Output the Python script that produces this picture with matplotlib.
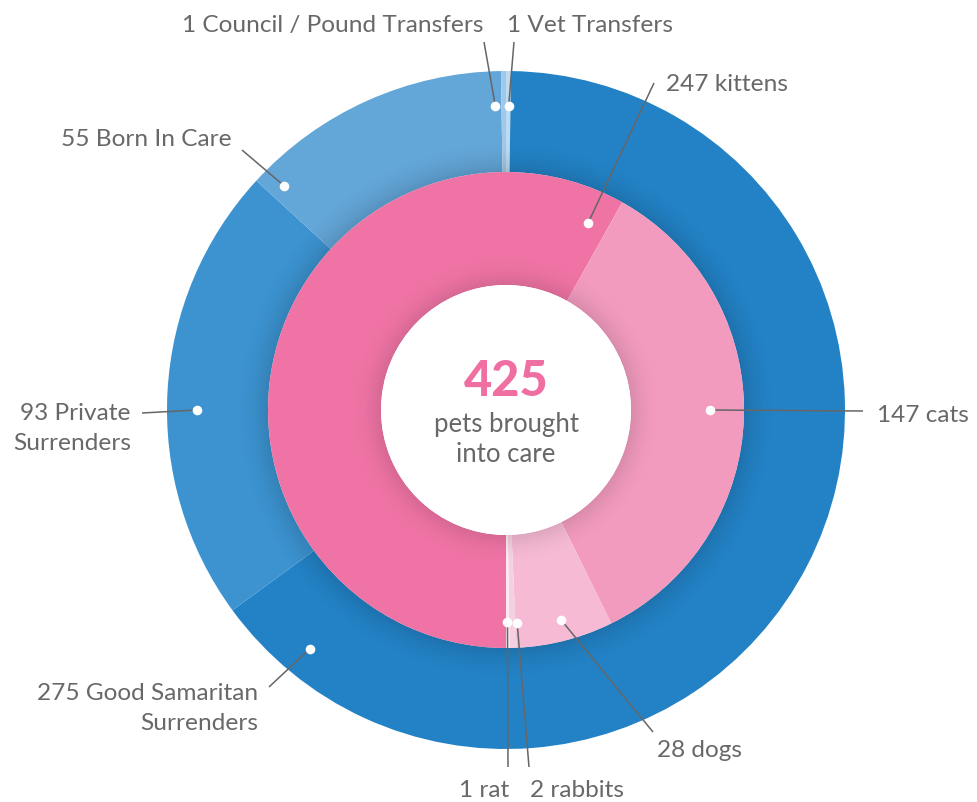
import matplotlib
matplotlib.use("Agg")
import matplotlib.pyplot as plt
import numpy as np
from matplotlib.patches import Circle, Wedge

# ---------------- data ----------------
source_labels = ["Vet Transfers", "Good Samaritan\nSurrenders", "Private\nSurrenders",
                 "Born In Care", "Council / Pound Transfers"]
source_values = [1, 275, 93, 55, 1]
animal_labels = ["kittens", "cats", "dogs", "rabbits", "rat"]
animal_values = [247, 147, 28, 2, 1]
total_value = 425
total_caption = ["pets brought", "into care"]

# ---------------- style ----------------
outer_colors = ["#bcdaf1", "#2382c5", "#3c93d0", "#63a6d8", "#a0c8e8"]
inner_colors = ["#ef74a5", "#f29bbf", "#f6bad4", "#f5d0e1", "#fbeaf2"]
TEXT_C = "#686868"
LINE_C = "#666666"
FONT = "Lato"

W, H = 978, 803
CX, CY = 506, 411          # pie centre in pixels (from top-left)
R_OUT, R_MID, R_IN = 339, 238, 125

fig = plt.figure(figsize=(W / 100, H / 100), dpi=100)
ax = fig.add_axes([0, 0, 1, 1])

ax.pie(source_values, radius=R_OUT, colors=outer_colors, startangle=90,
       counterclock=False, wedgeprops=dict(width=R_OUT - R_MID, linewidth=0))
ax.pie(animal_values, radius=R_MID, colors=inner_colors, startangle=-90,
       counterclock=False, wedgeprops=dict(width=R_MID - R_IN, linewidth=0))

# soft shadows at inner edges of rings
def shade(r0, depth, amax):
    n = 24
    for i in range(n):
        t0, t1 = i / n, (i + 1) / n
        a = amax * (1 - t0) ** 2
        ax.add_patch(Wedge((0, 0), r0 + depth * t1, 0, 360, width=depth * (t1 - t0),
                           facecolor="black", alpha=a, linewidth=0))

shade(R_MID, 32, 0.12)
shade(R_IN, 30, 0.10)

ax.add_patch(Circle((0, 0), R_IN, facecolor="white", edgecolor="none", zorder=3))

ax.set_xlim(-CX, W - CX)
ax.set_ylim(-(H - CY), CY)
ax.set_aspect("equal")
ax.axis("off")


def P(px, py):
    return px - CX, CY - py


# ---------------- labels ----------------
# (angle clockwise from top, dot radius, line end px, text anchor px, ha)
outer_layout = [
    (0.5, 304, (514, 43), (507, 32), "left"),
    (219.4, 309, (269, 688), (258, 700), "right"),
    (270.0, 309, (142, 414), (131, 420), "right"),
    (315.3, 315, (242, 151), (232, 146), "right"),
    (358.0, 304, (484, 43), (483, 32), "right"),
]
inner_layout = [
    (23.7, 204, (654, 84), (666, 91), "left"),
    (90.0, 204, (863, 412), (877, 422), "left"),
    (165.3, 217, (653, 733), (657, 757), "left"),
    (177.0, 213, (529, 768), (530, 797), "left"),
    (179.6, 212, (508, 768), (509, 797), "right"),
]

FS = 17.6
LINE_GAP = 30


def draw_label(value, name, layout):
    ang, r, lend, tpos, ha = layout
    th = np.deg2rad(ang)
    dx, dy = r * np.sin(th), r * np.cos(th)
    ex, ey = P(*lend)
    ax.plot([dx, ex], [dy, ey], color=LINE_C, lw=1.1, zorder=5, solid_capstyle="butt")
    ax.scatter([dx], [dy], s=48, color="white", zorder=6, linewidths=0)
    lines = f"{value} {name}".split("\n")
    for k, line in enumerate(lines):
        tx, ty = P(tpos[0], tpos[1] + k * LINE_GAP)
        ax.text(tx, ty, line, ha=ha, va="baseline", fontsize=FS, color=TEXT_C,
                family=FONT, zorder=7)


for v, n, lay in zip(source_values, source_labels, outer_layout):
    draw_label(v, n, lay)
for v, n, lay in zip(animal_values, animal_labels, inner_layout):
    draw_label(v, n, lay)

# centre text
ax.text(*P(CX, 396), str(total_value), ha="center", va="baseline", fontsize=35,
        fontweight="black", color="#f06fa3", family=FONT, zorder=7)
ax.text(*P(CX, 432), total_caption[0], ha="center", va="baseline", fontsize=18.5,
        color=TEXT_C, family=FONT, zorder=7)
ax.text(*P(CX, 462), total_caption[1], ha="center", va="baseline", fontsize=18.5,
        color=TEXT_C, family=FONT, zorder=7)

fig.savefig("out.png", dpi=100, facecolor="white")
